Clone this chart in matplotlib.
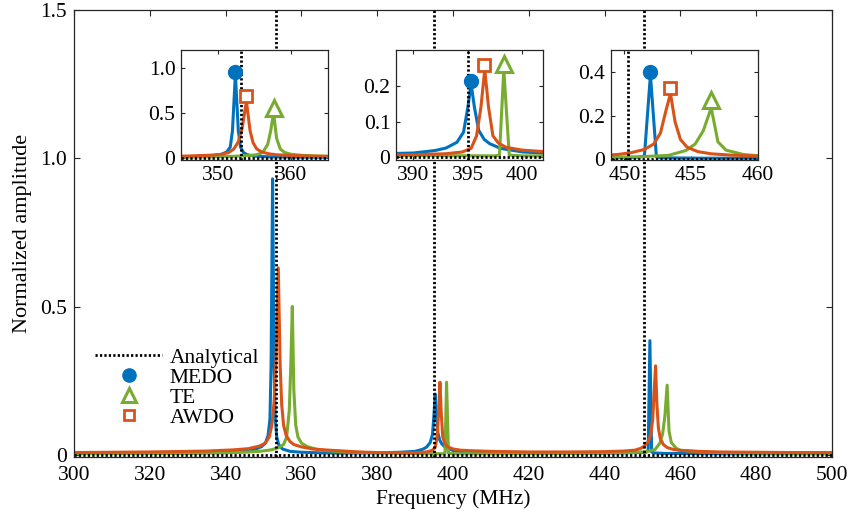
import matplotlib
matplotlib.use('Agg')
import matplotlib.pyplot as plt
from matplotlib.lines import Line2D

plt.rcParams['font.family'] = ['Liberation Serif', 'DejaVu Serif']
plt.rcParams['font.size'] = 15.5

# Colores (paleta MATLAB)
c_medo = '#0072BD'
c_awdo = '#D95319'
c_te = '#77AC30'

# Frecuencias de resonancia analiticas (MHz)
analytical_freq = [353.2, 395.0, 450.3]

# MEDO
medo_freq = [300, 320, 335, 342, 346, 348, 349.5, 350.5, 351.2, 351.7, 352.0, 352.4, 352.8, 353.1,
             353.5, 354, 355, 357, 360, 365, 370, 380, 386, 390, 392, 393, 394, 394.6, 395.0,
             395.3, 395.6, 396.0, 396.5, 397, 398, 400, 403, 410, 420, 430, 440, 445, 448, 450,
             451.0, 451.5, 451.95, 452.4, 452.9, 454, 456, 460, 470, 480, 490, 500]
medo_amp = [0.005, 0.006, 0.008, 0.011, 0.015, 0.02, 0.028, 0.04, 0.065, 0.12, 0.3, 0.93, 0.3, 0.12,
            0.06, 0.035, 0.02, 0.012, 0.009, 0.007, 0.006, 0.007, 0.009, 0.012, 0.019, 0.026, 0.042, 0.07, 0.14,
            0.205, 0.14, 0.075, 0.05, 0.038, 0.025, 0.015, 0.01, 0.007, 0.006, 0.006, 0.006, 0.007, 0.008, 0.008,
            0.009, 0.015, 0.385, 0.01, 0.007, 0.006, 0.005, 0.005, 0.004, 0.004, 0.004, 0.004]

# AWDO
awdo_freq = [300, 320, 335, 342, 346, 349, 350.5, 351.5, 352.2, 352.8, 353.3, 353.9, 354.4, 354.8,
             355.3, 356, 357, 358, 360, 363, 366, 370, 375, 380, 388, 390, 393, 394.5, 395.3, 395.8,
             396.2, 396.55, 396.9, 397.3, 397.8, 398.5, 400, 402, 405, 410, 420, 430, 440, 445, 448,
             449.5, 450.5, 451.5, 452.2, 452.7, 453.1, 453.45, 453.8, 454.2, 454.7, 455.5, 456.5, 458,
             460, 465, 470, 480, 490, 500]
awdo_amp = [0.008, 0.01, 0.013, 0.017, 0.021, 0.03, 0.04, 0.06, 0.1, 0.18, 0.32, 0.63, 0.3, 0.17,
            0.1, 0.065, 0.045, 0.035, 0.027, 0.02, 0.017, 0.014, 0.01, 0.008, 0.006, 0.007, 0.01, 0.015, 0.025, 0.06,
            0.14, 0.245, 0.14, 0.06, 0.04, 0.028, 0.02, 0.016, 0.014, 0.012, 0.01, 0.01, 0.011, 0.013, 0.016,
            0.022, 0.03, 0.045, 0.07, 0.12, 0.22, 0.30, 0.17, 0.09, 0.055, 0.035, 0.025, 0.019,
            0.015, 0.012, 0.01, 0.009, 0.008, 0.008]

# TE
te_freq = [300, 330, 340, 345, 349, 352, 354, 355.3, 356.1, 356.8, 357.2, 357.6, 358.0, 358.5, 359.1,
           360, 361.5, 364, 367, 372, 380, 390, 397.5, 397.9, 398.3, 398.8, 400, 410, 430, 440, 447,
           451, 453.3, 454.6, 455.3, 455.9, 456.5, 457.0, 457.6, 458.9, 460, 465, 470, 480, 500]
te_amp = [0.004, 0.005, 0.007, 0.009, 0.012, 0.017, 0.025, 0.035, 0.06, 0.15, 0.3, 0.5, 0.22, 0.1, 0.06,
          0.04, 0.028, 0.019, 0.014, 0.01, 0.007, 0.005, 0.004, 0.006, 0.245, 0.006, 0.004, 0.004, 0.005, 0.006, 0.008,
          0.011, 0.018, 0.04, 0.07, 0.13, 0.235, 0.08, 0.042, 0.022, 0.016, 0.01, 0.008, 0.006, 0.005]

# Marcadores de pico en los recuadros
medo_peak_freq = [352.4, 395.3, 451.95]
medo_peak_amp = [0.96, 0.214, 0.40]
awdo_peak_freq = [353.9, 396.5, 453.45]
awdo_peak_amp = [0.685, 0.258, 0.328]
te_peak_freq = [357.6, 398.3, 456.5]
te_peak_amp = [0.555, 0.262, 0.27]

# Recuadros: limites y ticks
inset_xlim = [(345, 365), (388.4, 401.9), (449, 460)]
inset_ylim = [(-0.025, 1.2), (-0.008, 0.3), (-0.004, 0.5)]
inset_xticks = [[350, 360], [390, 395, 400], [450, 455, 460]]
inset_yticks = [[0, 0.5, 1.0], [0, 0.1, 0.2], [0, 0.2, 0.4]]
inset_yticklabels = [['0', '0.5', '1.0'], ['0', '0.1', '0.2'], ['0', '0.2', '0.4']]

dotted = (0, (0.8, 0.8))
spine_color = '#262626'

fig = plt.figure(figsize=(8.51, 5.2), dpi=100)
ax = fig.add_axes([74 / 851, 1 - 456.7 / 520, 758 / 851, 447 / 520])

ax.plot(medo_freq, medo_amp, color=c_medo, lw=2.2)
ax.plot(te_freq, te_amp, color=c_te, lw=2.2)
ax.plot(awdo_freq, awdo_amp, color=c_awdo, lw=2.2)
for f in analytical_freq:
    ax.axvline(f, color='k', ls=dotted, lw=2)
ax.axhline(0, color='k', ls=dotted, lw=2)

ax.set_xlim(300, 500)
ax.set_ylim(-0.006, 1.5)
ax.set_xticks(range(300, 501, 20))
ax.set_yticks([0, 0.5, 1.0, 1.5])
ax.set_yticklabels(['0', '0.5', '1.0', '1.5'])
ax.tick_params(direction='in', top=True, right=True, length=4, width=0.8, pad=5, colors=spine_color,
               labelcolor='k')
ax.tick_params(axis='x', pad=7)
for s in ax.spines.values():
    s.set_color(spine_color)
    s.set_linewidth(0.9)
ax.set_xlabel('Frequency (MHz)', labelpad=3)
ax.set_ylabel('Normalized amplitude', labelpad=6, fontsize=16)

# Leyenda (solo marcadores para los metodos)
handles = [
    Line2D([], [], color='k', ls=dotted, lw=2),
    Line2D([], [], ls='none', marker='o', ms=9.5, color=c_medo),
    Line2D([], [], ls='none', marker='^', ms=10, mfc='white', mec=c_te, mew=2.2),
    Line2D([], [], ls='none', marker='s', ms=7.5, mfc='white', mec=c_awdo, mew=2),
]
ax.legend(handles, ['Analytical', 'MEDO', 'TE', 'AWDO'], loc='upper left',
          bbox_to_anchor=(0.028, 0.244), frameon=False, borderaxespad=0, borderpad=0,
          handlelength=3.1, handletextpad=0.35, labelspacing=0.0)

# Recuadros ampliados
inset_left = [181, 396, 611]
for i in range(3):
    axi = fig.add_axes([inset_left[i] / 851, 0.692, 147 / 851, 0.212])
    axi.plot(medo_freq, medo_amp, color=c_medo, lw=2.2)
    axi.plot(te_freq, te_amp, color=c_te, lw=2.2)
    axi.plot(awdo_freq, awdo_amp, color=c_awdo, lw=2.2)
    for f in analytical_freq:
        axi.axvline(f, color='k', ls=dotted, lw=2)
    axi.axhline(0, color='k', ls=dotted, lw=2)
    axi.plot(medo_peak_freq[i], medo_peak_amp[i], 'o', ms=10, color=c_medo)
    axi.plot(awdo_peak_freq[i], awdo_peak_amp[i], 's', ms=8, mfc='white', mec=c_awdo, mew=2)
    axi.plot(te_peak_freq[i], te_peak_amp[i], '^', ms=11, mfc='white', mec=c_te, mew=2.2)
    axi.set_xlim(inset_xlim[i])
    axi.set_ylim(inset_ylim[i])
    axi.set_xticks(inset_xticks[i])
    axi.set_yticks(inset_yticks[i])
    axi.set_yticklabels(inset_yticklabels[i])
    axi.tick_params(direction='in', top=True, right=True, length=3, width=0.8, pad=4,
                    colors=spine_color, labelcolor='k')
    for s in axi.spines.values():
        s.set_color(spine_color)
        s.set_linewidth(0.9)

plt.savefig('out.png', dpi=100)
